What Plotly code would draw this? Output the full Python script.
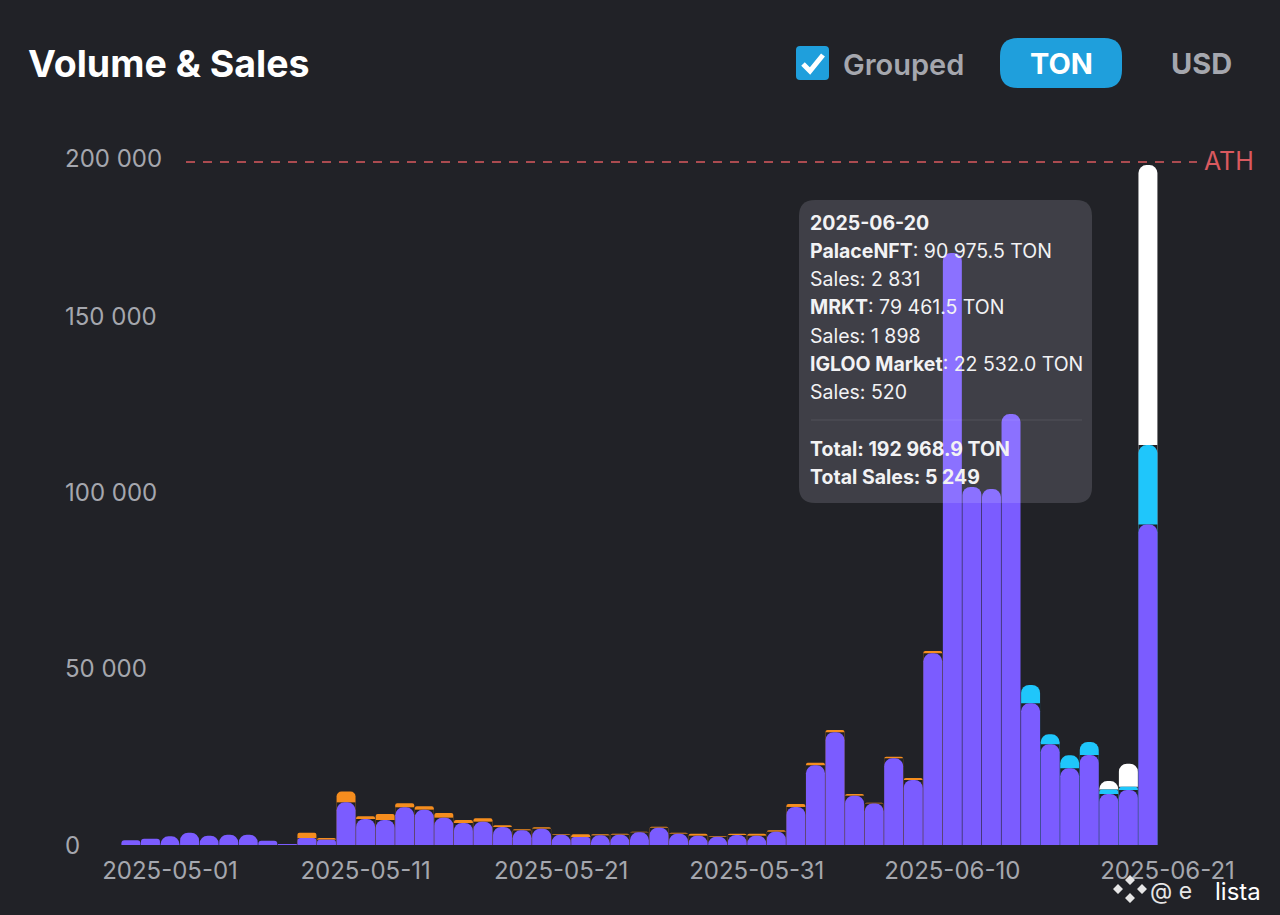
import plotly.graph_objects as go
import numpy as np

# one bar per day
dates = ['2025-04-29', '2025-04-30', '2025-05-01', '2025-05-02', '2025-05-03', '2025-05-04', '2025-05-05', '2025-05-06',
         '2025-05-07', '2025-05-08', '2025-05-09', '2025-05-10', '2025-05-11', '2025-05-12', '2025-05-13', '2025-05-14',
         '2025-05-15', '2025-05-16', '2025-05-17', '2025-05-18', '2025-05-19', '2025-05-20', '2025-05-21', '2025-05-22',
         '2025-05-23', '2025-05-24', '2025-05-25', '2025-05-26', '2025-05-27', '2025-05-28', '2025-05-29', '2025-05-30',
         '2025-05-31', '2025-06-01', '2025-06-02', '2025-06-03', '2025-06-04', '2025-06-05', '2025-06-06', '2025-06-07',
         '2025-06-08', '2025-06-09', '2025-06-10', '2025-06-11', '2025-06-12', '2025-06-13', '2025-06-14', '2025-06-15',
         '2025-06-16', '2025-06-17', '2025-06-18', '2025-06-19', '2025-06-20']

palace = [1330, 1800, 2460, 3500, 2650, 2930, 2930, 1230,
          280, 1990, 1510, 12100, 7380, 7100, 10700, 10030,
          7760, 6240, 6620, 5100, 4160, 4640, 2930, 2270,
          2740, 2930, 3590, 4920, 3220, 2650, 2360, 2840,
          2650, 3780, 10800, 22600, 32000, 14000, 11800, 24600,
          18450, 54400, 168000, 101600, 101000, 122300, 40200, 28580,
          21760, 25540, 14470, 15600, 90975.5]

other = [0, 0, 0, 0, 0, 0, 0, 0,
         0, 1510, 480, 3100, 760, 1700, 1130, 950,
         1300, 850, 950, 480, 280, 380, 200, 750,
         280, 280, 200, 280, 280, 570, 190, 370,
         570, 380, 850, 760, 660, 480, 180, 470,
         570, 660, 0, 0, 0, 0, 0, 0,
         0, 0, 0, 0, 0]

igloo = [0, 0, 0, 0, 0, 0, 0, 0,
         0, 0, 0, 0, 0, 0, 0, 0,
         0, 0, 0, 0, 0, 0, 0, 0,
         0, 0, 0, 0, 0, 0, 0, 0,
         0, 0, 0, 0, 0, 0, 0, 0,
         0, 0, 0, 0, 0, 0, 5200, 2840,
         3690, 3690, 1300, 950, 22532.0]

mrkt = [0, 0, 0, 0, 0, 0, 0, 0,
        0, 0, 0, 0, 0, 0, 0, 0,
        0, 0, 0, 0, 0, 0, 0, 0,
        0, 0, 0, 0, 0, 0, 0, 0,
        0, 0, 0, 0, 0, 0, 0, 0,
        0, 0, 0, 0, 0, 0, 0, 0,
        0, 0, 2360, 6530, 79461.5]

ath_value = 193800

x_ticks = ['2025-05-01', '2025-05-11', '2025-05-21', '2025-05-31', '2025-06-10', '2025-06-21']
y_ticks = [0, 50000, 100000, 150000, 194900]
y_tick_labels = ['0', '50 000', '100 000', '150 000', '200 000']

tooltip_lines = ['<b>2025-06-20</b>',
                 '<b>PalaceNFT</b>: 90 975.5 TON',
                 'Sales: 2 831',
                 '<b>MRKT</b>: 79 461.5 TON',
                 'Sales: 1 898',
                 '<b>IGLOO Market</b>: 22 532.0 TON',
                 'Sales: 520',
                 '<b>Total: 192 968.9 TON</b>',
                 '<b>Total Sales: 5 249</b>']
tooltip_rows = [223, 251, 279, 307, 336, 364, 392, 449, 477]

W, H = 1280, 915
ML, MR, MT, MB = 100, 100, 100, 70
FONT = 'Inter'
BG = '#212227'
PURPLE = '#7b5cff'
ORANGE = '#f58d1e'
CYAN = '#1fc6fb'
WHITE = '#ffffff'
GREY = '#a5a7ae'
THIN = 2300  # segments lower than about 8px get small corners
Y_RANGE = [0, 211431]


def px(x):
    return (x - ML) / (W - ML - MR)


def py(y):
    return (H - MB - y) / (H - MT - MB)


def rounded(x0, y0, x1, y1, r):
    # rounded rectangle in page pixels, converted to paper coords
    return (f'M {px(x0 + r)} {py(y0)} L {px(x1 - r)} {py(y0)} Q {px(x1)} {py(y0)} {px(x1)} {py(y0 + r)} '
            f'L {px(x1)} {py(y1 - r)} Q {px(x1)} {py(y1)} {px(x1 - r)} {py(y1)} '
            f'L {px(x0 + r)} {py(y1)} Q {px(x0)} {py(y1)} {px(x0)} {py(y1 - r)} '
            f'L {px(x0)} {py(y0 + r)} Q {px(x0)} {py(y0)} {px(x0 + r)} {py(y0)} Z')


def text(x, y, s, size, color, anchor='left', weight=None):
    fig.add_annotation(xref='paper', yref='paper', x=px(x), y=py(y), text=s, showarrow=False,
                       xanchor=anchor, yanchor='middle', align='left', borderpad=0, borderwidth=0,
                       font=dict(family=FONT, size=size, color=color, weight=weight))


fig = go.Figure()


def layer(values, color, radius, axis):
    fig.add_trace(go.Bar(x=dates, y=values, yaxis=axis,
                         marker=dict(color=color, cornerradius=radius, line=dict(width=0)),
                         showlegend=False, hoverinfo='skip'))


# plotly only rounds the highest bar of a subplot position, so each series sits on its
# own overlaid y axis: a flat background bar cuts off the series above, then the rounded
# bar goes on top, which leaves the dark notches over each rounded top
series = [('MRKT', mrkt, WHITE, 8), ('IGLOO Market', igloo, CYAN, 8), ('Other', other, ORANGE, 5), ('PalaceNFT', palace, PURPLE, 8)]
top = np.array(palace, dtype=float) + np.array(other) + np.array(igloo) + np.array(mrkt)
above = None
for i, (name, values, color, radius) in enumerate(series):
    axis = 'y' if i == 0 else f'y{i + 1}'
    values = np.array(values, dtype=float)
    if above is not None:
        layer(np.where(above > 0, top, 0), BG, 0, axis)
    layer(np.where(values >= THIN, top, 0), color, radius, axis)
    layer(np.where((values > 0) & (values < THIN), top, 0), color, 2 if name == 'Other' else 3, axis)
    above = values
    top = top - values

fig.update_layout(
    width=W, height=H,
    margin=dict(l=ML, r=MR, t=MT, b=MB),
    paper_bgcolor=BG, plot_bgcolor=BG,
    barmode='overlay', bargap=0.03,
    showlegend=False,
    font=dict(family=FONT, color=GREY),
    yaxis=dict(range=Y_RANGE, showgrid=False, zeroline=False, showline=False, showticklabels=False),
    yaxis2=dict(range=Y_RANGE, overlaying='y', visible=False),
    yaxis3=dict(range=Y_RANGE, overlaying='y', visible=False),
    yaxis4=dict(range=Y_RANGE, overlaying='y', visible=False),
)
fig.update_xaxes(type='date', range=['2025-04-27 10:05', '2025-06-21 15:21'],
                 tickvals=x_ticks, ticktext=x_ticks, showgrid=False, zeroline=False, showline=False,
                 ticks='outside', ticklen=4, tickcolor=BG, tickfont=dict(size=24, color=GREY, family=FONT))

# y labels are left aligned in the original
for val, lab in zip(y_ticks, y_tick_labels):
    fig.add_annotation(xref='paper', yref='y', x=px(65), y=val, text=lab, showarrow=False, borderpad=0, borderwidth=0,
                       xanchor='left', yanchor='middle', font=dict(family=FONT, size=24, color=GREY))

# ATH line
fig.add_shape(type='line', xref='paper', yref='y', x0=px(186), x1=px(1197), y0=ath_value, y1=ath_value,
              line=dict(color='#d9595f', width=1.5, dash='9px,8px'), layer='above')
text(1204, 161, 'ATH', 25, '#d9595f')

# header
text(28, 63, '<b>Volume &amp; Sales</b>', 37.5, WHITE)
fig.add_shape(type='path', xref='paper', yref='paper', path=rounded(796, 46, 829, 80, 4),
              fillcolor='#1f9fdc', line=dict(width=0))
fig.add_shape(type='path', xref='paper', yref='paper',
              path=f'M {px(803)} {py(64)} L {px(810)} {py(71)} L {px(823)} {py(55)}',
              line=dict(color=WHITE, width=5))
text(843, 65, 'Grouped', 29, GREY, weight=600)
fig.add_shape(type='path', xref='paper', yref='paper', path=rounded(1000, 38, 1122, 88, 18),
              fillcolor='#1f9fdc', line=dict(width=0))
text(1061, 63, '<b>TON</b>', 29, WHITE, anchor='center')
text(1201, 63, '<b>USD</b>', 29, GREY, anchor='center')

# tooltip box, frozen open on 2025-06-20
fig.add_shape(type='path', xref='paper', yref='paper', path=rounded(799, 200, 1092, 503, 16),
              fillcolor='rgba(235,238,255,0.15)', line=dict(width=0), layer='above')
fig.add_shape(type='line', xref='paper', yref='paper', x0=px(811), x1=px(1082), y0=py(420), y1=py(420),
              line=dict(color='rgba(255,255,255,0.10)', width=1), layer='above')
for row, line in zip(tooltip_rows, tooltip_lines):
    text(810, row, line, 19.5, '#f2f2f4')

# watermark
fig.add_shape(type='path', xref='paper', yref='paper', fillcolor='#e6e6e6', line=dict(width=0),
              path=' '.join(f'M {px(cx - 5)} {py(cy)} L {px(cx)} {py(cy - 5)} L {px(cx + 5)} {py(cy)} L {px(cx)} {py(cy + 5)} Z'
                            for cx, cy in [(1130, 880), (1118, 889), (1142, 889), (1130, 898)]))
text(1150, 891, '@ e', 23, '#e6e6e6')
text(1215, 891, 'lista', 24, '#ffffff')

# page margin would leave a white frame round the figure
fig.write_html("out.html", config={'displayModeBar': False},
               post_script="document.body.style.margin='0';document.body.style.background='#212227';")
